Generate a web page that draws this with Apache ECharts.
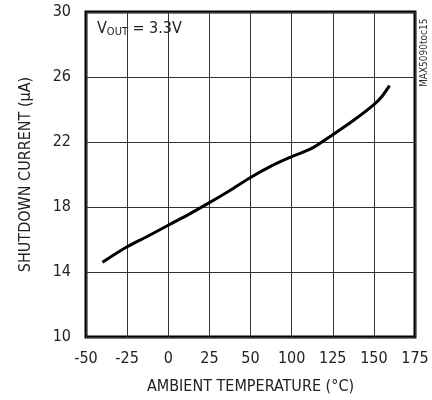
<!DOCTYPE html>
<html>
<head>
<meta charset="utf-8">
<script src="https://cdn.jsdelivr.net/npm/echarts@6/dist/echarts.min.js"></script>
<style>
  html, body { margin: 0; padding: 0; background: #fff; }
  #chart { width: 432px; height: 400px; }
</style>
</head>
<body>
<div id="chart"></div>
<script>
// data
var temps = [-40, -25, -12.5, 0, 12.5, 25, 37.5, 50, 62.5, 75, 87.5, 100, 112.5, 125, 130, 134.5];
var current = [14.6, 15.55, 16.2, 16.88, 17.55, 18.27, 19.02, 19.82, 20.52, 21.1, 21.62, 22.45, 23.32, 24.3, 24.82, 25.47];
// tick labels as printed on the original (75 is skipped there)
var xTickLabels = ["-50", "-25", "0", "25", "50", "100", "125", "150", "175"];
var yTicks = [10, 14, 18, 22, 26, 30];

var font = "'Liberation Sans Narrow', 'DejaVu Sans Condensed', sans-serif";

var myChart = echarts.init(document.getElementById("chart"));
var points = temps.map(function (t, i) { return [t, current[i]]; });

var option = {
  animation: false,
  grid: {
    left: 86, right: 17, top: 12, bottom: 60,
    show: true, borderColor: "#000", borderWidth: 3
  },
  xAxis: {
    type: "value",
    min: -50, max: 150, interval: 25,
    name: "AMBIENT TEMPERATURE (°C)",
    nameLocation: "middle",
    nameGap: 42,
    nameTextStyle: { fontFamily: font, fontSize: 16, color: "#222" },
    axisLine: { show: false },
    axisTick: { show: false },
    axisLabel: {
      fontFamily: font, fontSize: 16, color: "#222", margin: 14,
      formatter: function (v) { return xTickLabels[Math.round((v + 50) / 25)]; }
    },
    splitLine: { show: true, lineStyle: { color: "#333", width: 1 } }
  },
  yAxis: {
    type: "value",
    min: yTicks[0], max: yTicks[yTicks.length - 1], interval: 4,
    name: "SHUTDOWN CURRENT (µA)",
    nameLocation: "middle",
    nameGap: 52,
    nameTextStyle: { fontFamily: font, fontSize: 16, color: "#222" },
    axisLine: { show: false },
    axisTick: { show: false },
    axisLabel: { fontFamily: font, fontSize: 16, color: "#222", margin: 15 },
    splitLine: { show: true, lineStyle: { color: "#333", width: 1 } }
  },
  series: [
    {
      type: "line",
      data: points,
      smooth: 0.3,
      showSymbol: false,
      lineStyle: { color: "#000", width: 3 }
    }
  ],
  graphic: [
    {
      type: "text",
      left: 97, top: 21,
      style: {
        rich: {
          a: { fontFamily: font, fontSize: 16, fill: "#222" },
          s: { fontFamily: font, fontSize: 11, fill: "#222", padding: [7, 0, 0, 0] }
        },
        text: "{a|V}{s|OUT}{a| = 3.3V}"
      }
    },
    {
      type: "text",
      x: 419, y: 87,
      rotation: Math.PI / 2,
      style: { text: "MAX5090toc15", fontFamily: font, fontSize: 10, fill: "#333" }
    }
  ]
};
myChart.setOption(option);
</script>
</body>
</html>
